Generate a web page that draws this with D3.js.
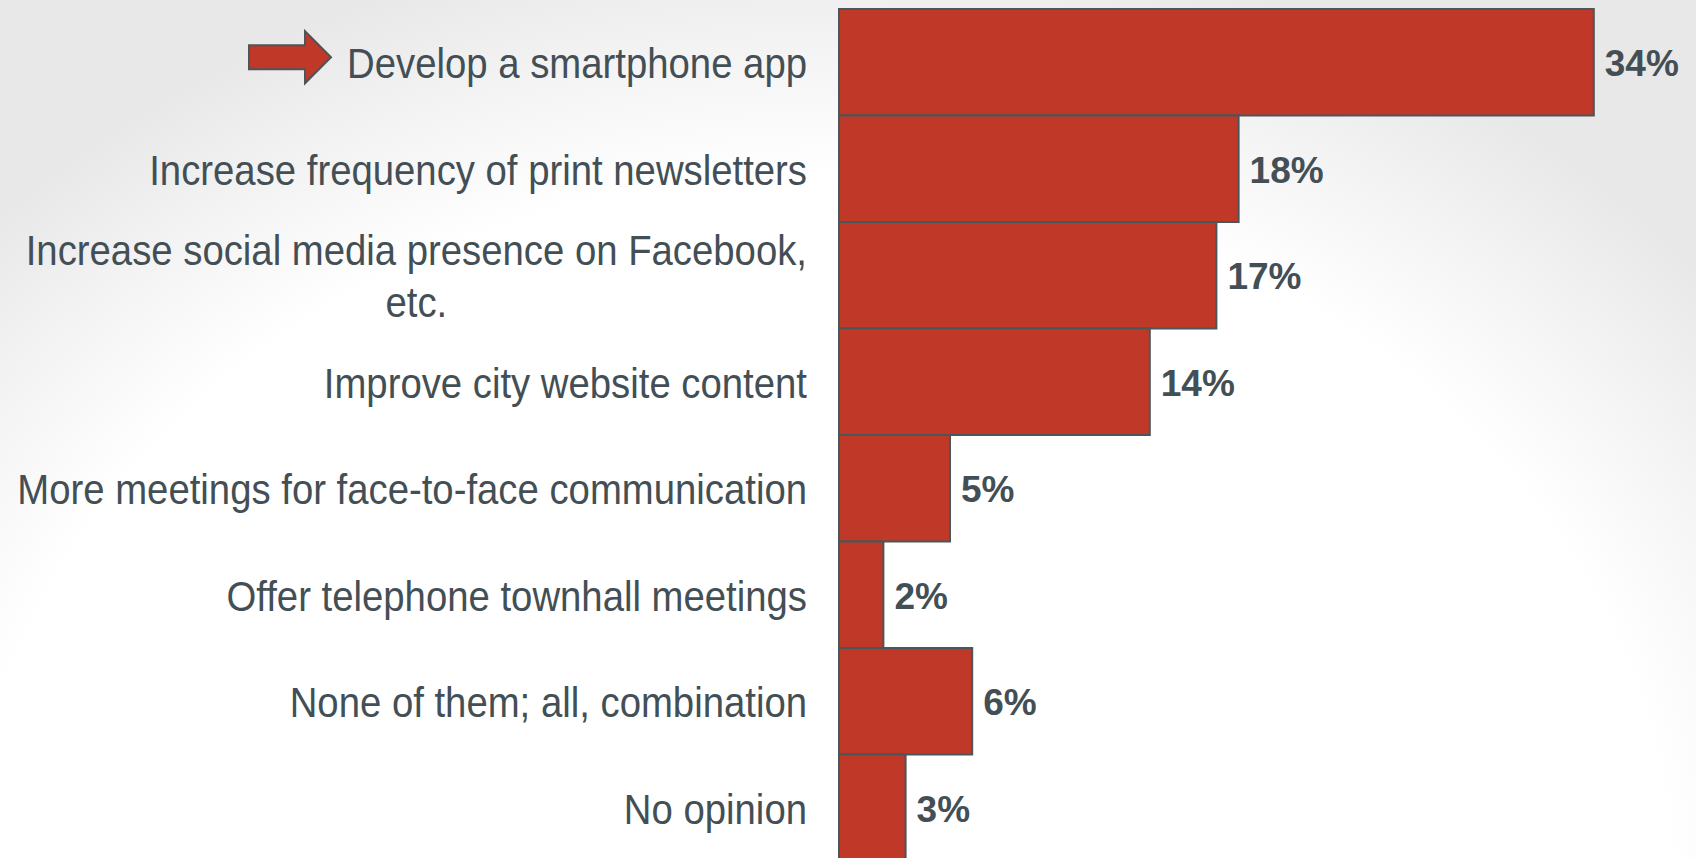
<!DOCTYPE html>
<html>
<head>
<meta charset="utf-8">
<script src="https://cdn.jsdelivr.net/npm/d3@7"></script>
<style>
  html, body { margin: 0; padding: 0; background: #ffffff; overflow: hidden; }
  svg { display: block; }
</style>
</head>
<body>
<svg id="chart" width="1696" height="858"></svg>
<script>
// Survey answers: preferred ways for the city to communicate
const categories = [
  "Develop a smartphone app",
  "Increase frequency of print newsletters",
  "Increase social media presence on Facebook,\netc.",
  "Improve city website content",
  "More meetings for face-to-face communication",
  "Offer telephone townhall meetings",
  "None of them; all, combination",
  "No opinion"
];
const percentages = [34, 18, 17, 14, 5, 2, 6, 3];
const highlighted = ["Develop a smartphone app"];

const W = 1696, H = 858;
const textColor = "#434f55";
const barFill = "#c03828";
const barStroke = "#4a5659";
const labelRight = 807;

const svg = d3.select("#chart");

// Soft slide backdrop: white lower area fading to light grey toward the top corners
const defs = svg.append("defs");
const bg = defs.append("radialGradient")
  .attr("id", "bgGrad")
  .attr("gradientUnits", "userSpaceOnUse")
  .attr("cx", 820).attr("cy", 900).attr("r", 1150)
  .attr("gradientTransform", "translate(820,900) scale(1,0.85) translate(-820,-900)");
bg.append("stop").attr("offset", "0").attr("stop-color", "#ffffff");
bg.append("stop").attr("offset", "0.74").attr("stop-color", "#ffffff");
bg.append("stop").attr("offset", "0.88").attr("stop-color", "#f3f3f3");
bg.append("stop").attr("offset", "1").attr("stop-color", "#e8e8e8");
svg.append("rect").attr("width", W).attr("height", H).attr("fill", "url(#bgGrad)");

const x = d3.scaleLinear().domain([0, 40]).range([839, 839 + 22.2 * 40]);
const y = d3.scaleBand().domain(categories).range([9, 9 + 106.5 * categories.length]).padding(0);

// Bars
svg.append("g").selectAll("rect")
  .data(categories)
  .join("rect")
  .attr("x", x(0))
  .attr("y", d => y(d))
  .attr("width", (d, i) => x(percentages[i]) - x(0))
  .attr("height", y.bandwidth())
  .attr("fill", barFill)
  .attr("stroke", barStroke)
  .attr("stroke-width", 2);

// Value labels
svg.append("g").selectAll("text")
  .data(categories)
  .join("text")
  .attr("x", (d, i) => x(percentages[i]) + 11)
  .attr("y", d => y(d) + y.bandwidth() / 2 + 1.5)
  .attr("dominant-baseline", "central")
  .attr("font-family", "'Liberation Sans', Arial, sans-serif")
  .attr("font-weight", "bold")
  .attr("font-size", 37)
  .attr("fill", textColor)
  .text((d, i) => percentages[i] + "%");

// Category labels: condensed, right-aligned, multi-line where needed
const labelGroup = svg.append("g")
  .attr("transform", `translate(${labelRight},0) scale(0.912,1) translate(${-labelRight},0)`);

const labels = labelGroup.selectAll("text")
  .data(categories)
  .join("text")
  .attr("font-family", "'Liberation Sans', Arial, sans-serif")
  .attr("font-size", 42)
  .attr("fill", textColor);

labels.each(function(d) {
  const lines = d.split("\n");
  const cy = y(d) + y.bandwidth() / 2 + 2;
  const lh = 52;
  const t = d3.select(this);
  lines.forEach((ln, k) => {
    t.append("tspan")
      .attr("x", labelRight)
      .attr("y", cy + (k - (lines.length - 1) / 2) * lh)
      .attr("dominant-baseline", "central")
      .attr("text-anchor", k > 0 ? "middle" : "end")
      .text(ln);
  });
});

// Centre continuation lines under the first line
labels.filter(d => d.includes("\n")).each(function() {
  const spans = d3.select(this).selectAll("tspan").nodes();
  const first = spans[0].getComputedTextLength();
  const mid = labelRight - first / 2;
  spans.slice(1).forEach(s => d3.select(s).attr("x", mid));
});

// Arrow marker pointing at the highlighted answer
const arrow = d3.line();
highlighted.forEach(cat => {
  const cy = y(cat) + y.bandwidth() / 2 - 5;
  const pts = [
    [249, cy - 12], [305, cy - 12], [305, cy - 26], [331, cy],
    [305, cy + 26], [305, cy + 12], [249, cy + 12]
  ];
  svg.append("path")
    .attr("d", arrow(pts) + "Z")
    .attr("fill", barFill)
    .attr("stroke", barStroke)
    .attr("stroke-width", 2)
    .attr("stroke-linejoin", "miter");
});
</script>
</body>
</html>
